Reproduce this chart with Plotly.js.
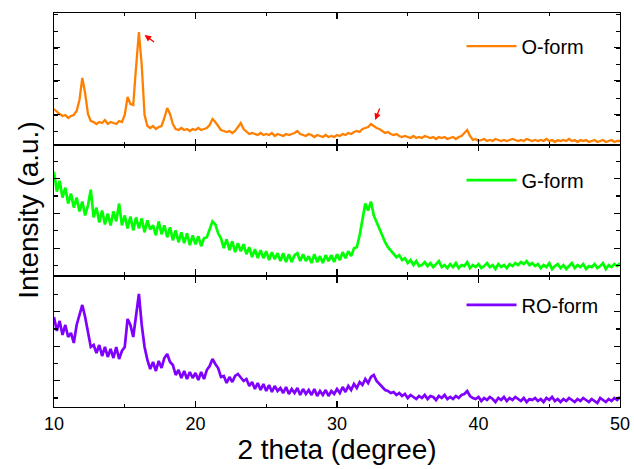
<!DOCTYPE html>
<html>
<head>
<meta charset="utf-8">
<script src="https://cdn.plot.ly/plotly-3.0.1.min.js"></script>
<style>html,body{margin:0;padding:0;background:#fff}#chart{width:634px;height:469px}</style>
</head>
<body>
<div id="chart"></div>
<script>
// Scan grid (degrees 2-theta)
const twoThetaStart = 10;
const twoThetaStep = 0.2;

// Intensity readings (arbitrary units), one value per 0.2 deg, 10.0 .. 50.0
const oForm = [
  36,33,31,29,30,27,29,30,34,45,
  67,52,31,24,23,21,23,22,25,21,
  23,22,21,24,23,30,48,41,40,78,
  113,80,30,19,17,19,16,18,19,27,
  37,31,21,16,15,17,15,16,14,16,
  15,17,15,16,17,20,26,23,19,15,
  14,13,14,12,14,18,22,16,13,11,
  12,11,10,12,10,11,10,12,9,11,
  10,9,11,10,11,12,14,11,10,9,
  11,10,8,10,9,8,10,8,9,8,
  10,9,11,10,12,11,13,14,13,16,
  17,18,21,19,17,16,14,12,13,11,
  10,11,9,8,9,8,7,9,7,8,
  7,9,8,7,8,6,8,7,8,6,
  7,8,6,8,9,12,15,9,5,6,
  4,5,6,4,5,4,6,5,4,5,
  4,5,6,5,4,5,4,6,5,4,
  5,4,5,4,6,4,5,3,5,4,
  5,4,6,4,5,3,5,4,5,3,
  4,5,3,4,5,3,4,5,3,4,
  4
];
const gForm = [
  104,84,95,78,88,72,82,68,78,64,
  74,60,70,86,58,68,53,65,51,62,
  50,64,54,72,50,60,47,59,45,58,
  47,57,43,55,46,50,40,54,41,50,
  38,48,35,45,33,43,32,42,30,40,
  31,39,29,37,38,47,54,51,42,37,
  27,36,25,34,23,32,24,31,21,28,
  18,26,17,25,17,24,15,23,16,22,
  14,22,13,21,13,20,22,14,21,14,
  19,12,21,13,19,12,20,14,20,13,
  21,15,23,17,24,19,27,28,40,56,
  72,65,74,60,53,46,38,33,28,25,
  22,18,20,15,17,12,15,10,14,9,
  10,13,9,12,8,11,14,8,10,7,
  11,8,12,7,10,9,13,7,10,8,
  11,7,9,12,8,10,6,11,8,10,
  7,11,9,12,10,13,11,14,10,12,
  9,11,7,10,8,12,6,9,11,7,
  10,6,9,12,7,10,8,11,6,9,
  8,11,7,9,12,6,10,8,11,9,
  12
];
const roForm = [
  90,76,86,72,82,70,74,64,82,92,
  102,90,74,60,62,54,62,51,60,50,
  58,49,60,48,56,60,88,82,70,90,
  113,82,60,47,38,45,36,46,39,49,
  53,45,42,32,37,29,36,28,35,29,
  34,27,35,28,37,41,48,43,39,30,
  31,24,30,25,31,33,29,26,28,21,
  25,18,24,17,23,16,22,15,21,16,
  19,14,20,13,18,14,19,12,18,13,
  17,12,18,11,16,12,17,11,16,13,
  18,14,20,15,21,17,23,19,25,22,
  28,24,30,32,26,23,19,17,16,14,
  15,12,14,11,13,9,12,10,8,11,
  9,12,8,11,10,7,11,9,12,8,
  10,8,11,9,12,13,16,11,9,8,
  10,6,9,7,10,8,5,9,7,10,
  6,9,7,10,8,6,9,5,8,7,
  9,6,8,5,9,7,10,6,8,5,
  8,6,9,7,5,8,6,9,7,5,
  8,6,4,9,7,5,8,6,9,7,
  10
];
const seriesNames = ['O-form', 'G-form', 'RO-form'];
const seriesColors = ['#ff8000', '#00ff00', '#8000ff'];
const xTickVals = [10, 20, 30, 40, 50];
const xTickText = ['10', '20', '30', '40', '50'];

const twoTheta = oForm.map((_, i) => +(twoThetaStart + i * twoThetaStep).toFixed(1));

const FONT = 'Arial, "Liberation Sans", sans-serif';

const traces = [
  {x: twoTheta, y: oForm, xaxis: 'x3', yaxis: 'y3', name: seriesNames[0], legend: 'legend',
   type: 'scatter', mode: 'lines', line: {color: seriesColors[0], width: 2.3}},
  {x: twoTheta, y: gForm, xaxis: 'x2', yaxis: 'y2', name: seriesNames[1], legend: 'legend2',
   type: 'scatter', mode: 'lines', line: {color: seriesColors[1], width: 2.7}},
  {x: twoTheta, y: roForm, xaxis: 'x', yaxis: 'y', name: seriesNames[2], legend: 'legend3',
   type: 'scatter', mode: 'lines', line: {color: seriesColors[2], width: 2.7}}
];

function xAx(anchor, labels) {
  return {
    anchor: anchor, range: [10, 50], showgrid: false, zeroline: false,
    showline: true, linecolor: '#000', linewidth: 1.3, mirror: 'ticks',
    ticks: 'inside', ticklen: 6, tickwidth: 1.3, tickcolor: '#000',
    tickmode: 'array', tickvals: xTickVals, ticktext: xTickText,
    showticklabels: labels,
    tickfont: {family: FONT, size: 18, color: '#000'},
    minor: {dtick: 5, tick0: 10, ticks: 'inside', ticklen: 3, tickwidth: 1.3, tickcolor: '#000', showgrid: false}
  };
}
function yAx(domain, xanchor, range, t0, dt, mt0, mdt) {
  return {
    domain: domain, anchor: xanchor, range: range, showgrid: false, zeroline: false,
    showline: true, linecolor: '#000', linewidth: 1.3, mirror: 'ticks',
    ticks: 'inside', ticklen: 6, tickwidth: 1.3, tickcolor: '#000',
    tick0: t0, dtick: dt, showticklabels: false,
    minor: {tick0: mt0, dtick: mdt, ticks: 'inside', ticklen: 4, tickwidth: 1.3, tickcolor: '#000', showgrid: false}
  };
}

const xa = xAx('y', true);
xa.title = {text: '2 theta (degree)', font: {family: FONT, size: 28, color: '#000'}, standoff: 0};
const xa2 = xAx('y2', false);
xa2.matches = 'x';
const xa3 = xAx('y3', false);
xa3.matches = 'x';
const xa4 = {
  overlaying: 'x3', anchor: 'y3', side: 'top', range: [10, 50], showgrid: false, zeroline: false,
  showline: false, ticks: 'inside', ticklen: 3, tickwidth: 1.3, tickcolor: '#000',
  tick0: 10, dtick: 2.5, showticklabels: false
};

const ya = yAx([0, 0.330], 'x', [0, 130], 26.3, 34.5, 9, 17.25);
const ya2 = yAx([0.335, 0.665], 'x2', [0, 131], 27, 35, 9.5, 17.5);
ya2.title = {text: 'Intensity (a.u.)', font: {family: FONT, size: 28, color: '#000'}, standoff: 6};
const ya3 = yAx([0.665, 1], 'x3', [0, 132], 30.7, 33.5, 13.3, 16.75);

function leg(y) {
  return {x: 0.72, xanchor: 'left', y: y, yanchor: 'middle', bgcolor: 'rgba(0,0,0,0)',
          borderwidth: 0, itemwidth: 50, font: {family: FONT, size: 20, color: '#000'}};
}

const layout = {
  width: 634, height: 469,
  margin: {l: 54, r: 14, t: 13, b: 62},
  paper_bgcolor: '#fff', plot_bgcolor: '#fff',
  font: {family: FONT, color: '#000'},
  xaxis: xa, xaxis2: xa2, xaxis3: xa3, xaxis4: xa4,
  yaxis: ya, yaxis2: ya2, yaxis3: ya3,
  showlegend: true,
  legend: leg(0.916), legend2: leg(0.576), legend3: leg(0.259),
  annotations: [
    {xref: 'x3', yref: 'y3', x: 16.4, y: 110, ax: 11, ay: 8, text: '', showarrow: true,
     arrowhead: 2, arrowsize: 1, arrowwidth: 1.3, arrowcolor: '#ff0000'},
    {xref: 'x3', yref: 'y3', x: 32.7, y: 25, ax: 5, ay: -13, text: '', showarrow: true,
     arrowhead: 2, arrowsize: 1, arrowwidth: 1.3, arrowcolor: '#ff0000'}
  ]
};

Plotly.newPlot('chart', traces, layout, {staticPlot: true, displayModeBar: false});
</script>
</body>
</html>
